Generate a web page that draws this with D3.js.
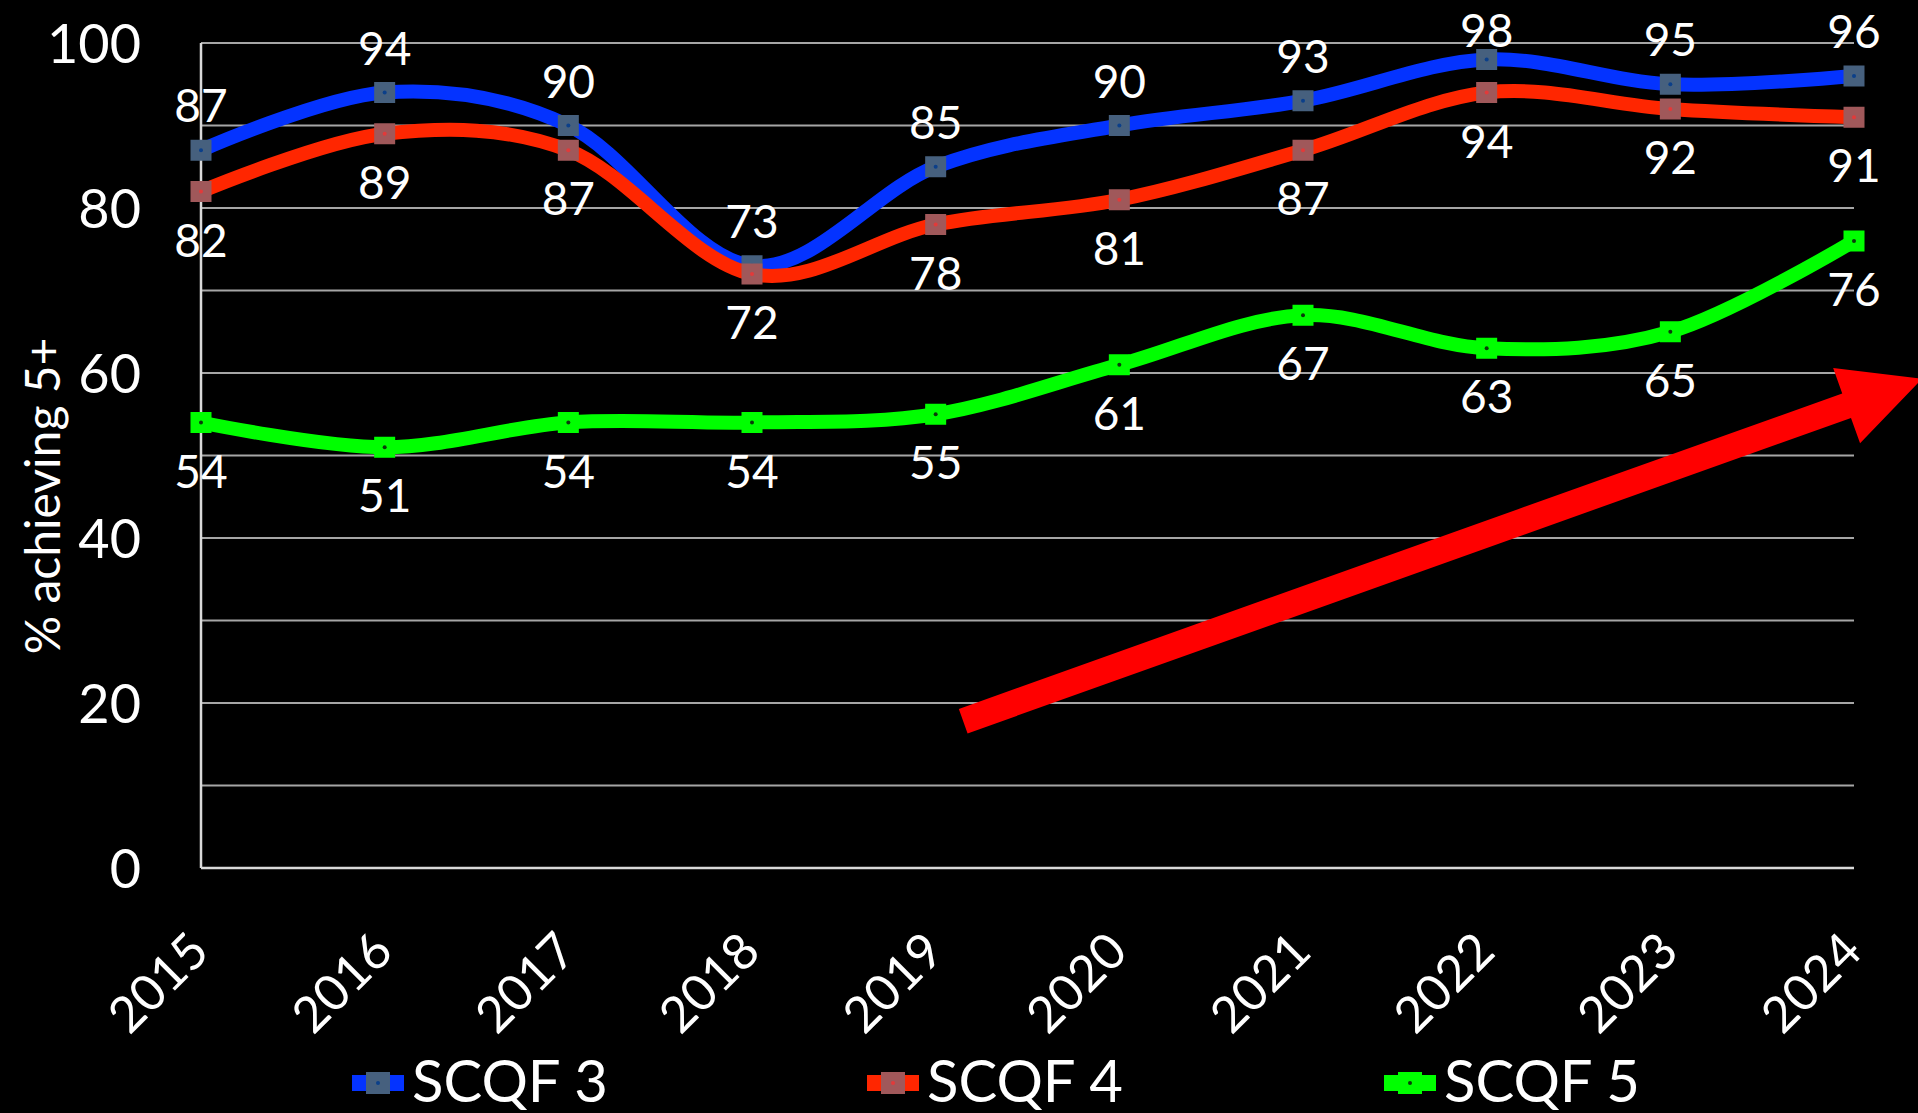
<!DOCTYPE html>
<html>
<head>
<meta charset="utf-8">
<script src="https://cdn.jsdelivr.net/npm/d3@7"></script>
<style>
  html, body { margin: 0; padding: 0; background: #000; }
  svg { display: block; }
  text { font-family: Lato, "Open Sans", "Liberation Sans", sans-serif; fill: #fff; }
</style>
</head>
<body>
<svg id="chart" width="1918" height="1113"></svg>
<script>
// ---- data ----
const years = ["2015","2016","2017","2018","2019","2020","2021","2022","2023","2024"];
const scqf3 = [87, 94, 90, 73, 85, 90, 93, 98, 95, 96];
const scqf4 = [82, 89, 87, 72, 78, 81, 87, 94, 92, 91];
const scqf5 = [54, 51, 54, 54, 55, 61, 67, 63, 65, 76];
const seriesNames = ["SCQF 3", "SCQF 4", "SCQF 5"];
const yTicks = [0, 20, 40, 60, 80, 100];
const yLabel = "% achieving 5+";
// trend arrow annotation, in data space (category index, value)
const arrowFrom = { i: 4.15, v: 17.8 };
const arrowTo   = { i: 9.37, v: 59.3 };

// ---- layout ----
const W = 1918, H = 1113;
const plot = { left: 201, right: 1854, top: 43, bottom: 868 };

const svg = d3.select("#chart");
svg.append("rect").attr("width", W).attr("height", H).attr("fill", "#000");

const x = d3.scalePoint().domain(years).range([plot.left, plot.right]).padding(0);
const y = d3.scaleLinear().domain([0, 100]).range([plot.bottom, plot.top]);
const xi = d3.scaleLinear().domain([0, years.length - 1]).range([plot.left, plot.right]);

// gridlines every 10
const grid = svg.append("g");
grid.selectAll("line").data(d3.range(10, 101, 10)).join("line")
  .attr("x1", plot.left).attr("x2", plot.right)
  .attr("y1", d => y(d)).attr("y2", d => y(d))
  .attr("stroke", "#a6a6a6").attr("stroke-width", 2);

// axes lines
svg.append("line").attr("x1", plot.left).attr("x2", plot.left)
  .attr("y1", plot.top).attr("y2", plot.bottom)
  .attr("stroke", "#d9d9d9").attr("stroke-width", 2.5);
svg.append("line").attr("x1", plot.left).attr("x2", plot.right)
  .attr("y1", plot.bottom).attr("y2", plot.bottom)
  .attr("stroke", "#d9d9d9").attr("stroke-width", 2.5);

// y axis via d3 axis
const yAxis = svg.append("g").attr("transform", `translate(${plot.left},0)`)
  .call(d3.axisLeft(y).tickValues(yTicks).tickSize(0).tickPadding(60));
yAxis.select(".domain").remove();
yAxis.selectAll("text").attr("font-size", 54).attr("fill", "#fff")
  .attr("font-family", "Lato, 'Open Sans', sans-serif").attr("dy", "0.36em");

// x axis via d3 axis
const xAxis = svg.append("g").attr("transform", `translate(0,${plot.bottom})`)
  .call(d3.axisBottom(x).tickSize(0));
xAxis.select(".domain").remove();
xAxis.selectAll("text")
  .attr("font-size", 50).attr("fill", "#fff")
  .attr("font-family", "Lato, 'Open Sans', sans-serif")
  .attr("text-anchor", "end")
  .attr("y", 0).attr("dy", 0)
  .attr("transform", "translate(10,86) rotate(-45)");

// y label
svg.append("text")
  .attr("transform", `translate(60,496) rotate(-90)`)
  .attr("text-anchor", "middle")
  .attr("font-size", 48)
  .text(yLabel);

// ---- series ----
const series = [
  { name: seriesNames[0], values: scqf3, line: "#0433ff", marker: "#46607e", dot: "#0b3f8a", labelPos: "above" },
  { name: seriesNames[1], values: scqf4, line: "#ff2600", marker: "#a0585a", dot: "#e23a3a", labelPos: "below" },
  { name: seriesNames[2], values: scqf5, line: "#00ff00", marker: "#00ff00", dot: "#0a3a0a", labelPos: "below" }
];

const lineGen = d3.line()
  .x((d, i) => x(years[i]))
  .y(d => y(d))
  .curve(d3.curveCatmullRom.alpha(0));

const mk = 21;
series.forEach(s => {
  const g = svg.append("g");
  g.append("path").datum(s.values)
    .attr("d", lineGen)
    .attr("fill", "none")
    .attr("stroke", s.line)
    .attr("stroke-width", 14)
    .attr("stroke-linejoin", "round");
  g.selectAll("rect").data(s.values).join("rect")
    .attr("x", (d, i) => x(years[i]) - mk / 2)
    .attr("y", d => y(d) - mk / 2)
    .attr("width", mk).attr("height", mk)
    .attr("fill", s.marker);
  g.selectAll("circle").data(s.values).join("circle")
    .attr("cx", (d, i) => x(years[i]))
    .attr("cy", d => y(d))
    .attr("r", 2)
    .attr("fill", s.dot);
});

// ---- arrow annotation ----
(function drawArrow() {
  const x0 = xi(arrowFrom.i), y0 = y(arrowFrom.v);
  const x1 = xi(arrowTo.i), y1 = y(arrowTo.v);
  const dx = x1 - x0, dy = y1 - y0, len = Math.hypot(dx, dy);
  const ux = dx / len, uy = dy / len;
  const px = -uy, py = ux;
  const shaftW = 26, headW = 80, headL = 80;
  const bx = x1 - ux * headL, by = y1 - uy * headL;
  const pts = [
    [x0 + px * shaftW / 2, y0 + py * shaftW / 2],
    [bx + px * shaftW / 2, by + py * shaftW / 2],
    [bx + px * headW / 2, by + py * headW / 2],
    [x1, y1],
    [bx - px * headW / 2, by - py * headW / 2],
    [bx - px * shaftW / 2, by - py * shaftW / 2],
    [x0 - px * shaftW / 2, y0 - py * shaftW / 2]
  ];
  svg.append("path")
    .attr("d", d3.line()(pts) + "Z")
    .attr("fill", "#ff0000");
})();

// ---- data labels ----
series.forEach(s => {
  svg.append("g").selectAll("text").data(s.values).join("text")
    .attr("x", (d, i) => x(years[i]))
    .attr("y", d => s.labelPos === "above" ? Math.max(47, y(d) - 28) : y(d) + 65)
    .attr("text-anchor", "middle")
    .attr("font-size", 46)
    .text(d => d);
});

// ---- legend ----
const legendX = [352, 867, 1384];
const legendY = 1083;
series.forEach((s, k) => {
  const g = svg.append("g").attr("transform", `translate(${legendX[k]},${legendY})`);
  g.append("line").attr("x1", 0).attr("x2", 52).attr("y1", 0).attr("y2", 0)
    .attr("stroke", s.line).attr("stroke-width", 16);
  g.append("rect").attr("x", 26 - 12).attr("y", -11).attr("width", 24).attr("height", 22)
    .attr("fill", s.marker);
  g.append("circle").attr("cx", 26).attr("cy", 0).attr("r", 2).attr("fill", s.dot);
  g.append("text").attr("x", 60).attr("y", 19).attr("font-size", 58).text(s.name);
});
</script>
</body>
</html>
